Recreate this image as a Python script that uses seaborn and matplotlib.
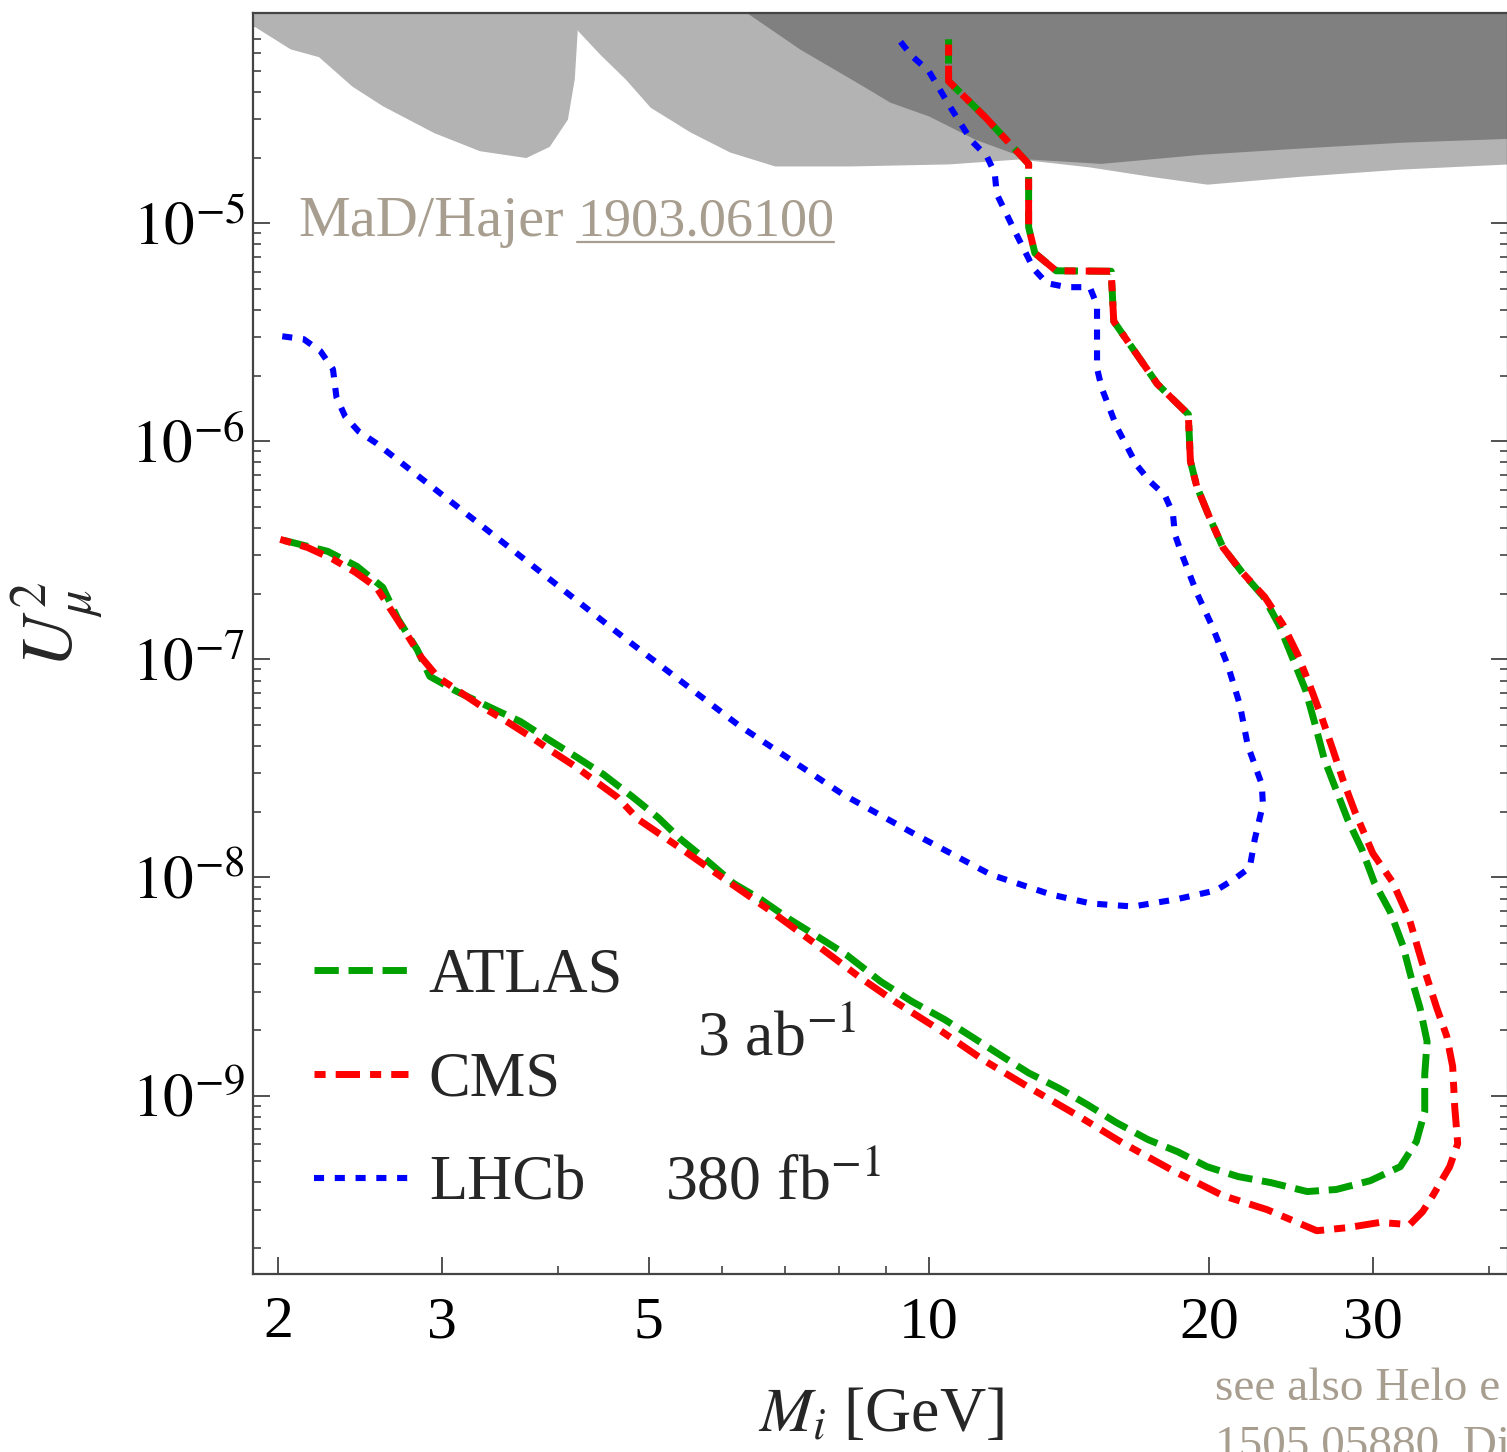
import matplotlib
matplotlib.use("Agg")
import matplotlib.pyplot as plt
import matplotlib.ticker as mticker
from matplotlib.lines import Line2D
import numpy as np
import seaborn as sns

# ------------------------------------------------------------
# Existing exclusion regions (lower boundaries, filled up to the top)
# ------------------------------------------------------------
excl_left_mass = [1.85, 2.06, 2.21, 2.40, 2.59, 2.94, 3.29, 3.69, 3.91, 4.09, 4.16, 4.19, 4.20]
excl_left_u2 = [8.4e-5, 6.3e-5, 5.8e-5, 4.25e-5, 3.45e-5, 2.6e-5, 2.15e-5, 2.0e-5, 2.25e-5,
                3.0e-5, 4.6e-5, 7.6e-5, 1e-4]

excl_mid_mass = [4.02, 4.20, 4.43, 4.72, 5.02, 5.54, 6.11, 6.83, 8.23, 10.5, 12.5, 14.9,
                 17.3, 19.9, 25.0, 32.1, 42.0]
excl_mid_u2 = [1e-4, 7.6e-5, 5.96e-5, 4.58e-5, 3.40e-5, 2.62e-5, 2.12e-5, 1.83e-5, 1.83e-5,
               1.87e-5, 1.97e-5, 1.81e-5, 1.64e-5, 1.51e-5, 1.64e-5, 1.77e-5, 1.87e-5]

excl_dark_mass = [6.2, 7.27, 8.43, 9.08, 10.0, 11.2, 12.8, 15.3, 19.6, 25.0, 32.1, 42.0]
excl_dark_u2 = [1e-4, 6.28e-5, 4.34e-5, 3.59e-5, 3.10e-5, 2.43e-5, 1.97e-5, 1.88e-5,
                2.07e-5, 2.21e-5, 2.35e-5, 2.45e-5]

# ------------------------------------------------------------
# Projected sensitivities
# ------------------------------------------------------------
atlas_mass = [2.03, 2.26, 2.43, 2.59, 2.69, 2.82, 2.91, 3.11, 3.38, 3.64, 3.90, 4.19, 4.47,
              4.80, 5.12, 5.40, 5.77, 6.17, 6.60, 7.09, 7.62, 8.15, 8.88, 9.59, 10.4, 11.1,
              12.0, 12.8, 13.8, 14.8, 15.9, 17.2, 18.5, 19.9, 21.5, 23.3, 25.5,
              27.4, 29.8, 32.1, 33.4, 34.1, 34.1, 34.3,
              33.7, 33.0, 32.3, 31.3, 30.1, 29.2, 28.2, 27.4, 26.6, 26.0, 25.4, 24.6, 23.8,
              22.9, 21.7, 20.7, 20.0, 19.4, 19.1, 19.0, 18.2, 17.6, 15.8, 15.7, 13.7, 13.0,
              12.8, 12.8, 12.6, 11.5, 10.5, 10.5]
atlas_u2 = [3.51e-7, 3.13e-7, 2.67e-7, 2.14e-7, 1.53e-7, 1.11e-7, 8.36e-8, 7.13e-8, 6.02e-8,
            5.19e-8, 4.30e-8, 3.55e-8, 2.97e-8, 2.35e-8, 1.88e-8, 1.51e-8, 1.20e-8, 9.39e-9,
            7.93e-9, 6.42e-9, 5.31e-9, 4.43e-9, 3.33e-9, 2.70e-9, 2.23e-9, 1.87e-9, 1.51e-9,
            1.27e-9, 1.08e-9, 9.09e-10, 7.52e-10, 6.28e-10, 5.53e-10, 4.72e-10, 4.25e-10,
            3.99e-10, 3.63e-10,
            3.71e-10, 4.07e-10, 4.72e-10, 6.15e-10, 8.44e-10, 1.25e-9, 1.77e-9,
            2.53e-9, 3.44e-9, 4.88e-9, 6.98e-9, 9.49e-9, 1.34e-8, 1.83e-8, 2.51e-8, 3.48e-8,
            5.03e-8, 7.21e-8, 1.01e-7, 1.43e-7, 1.93e-7, 2.51e-7, 3.26e-7, 4.53e-7, 6.22e-7,
            8.10e-7, 1.33e-6, 1.59e-6, 1.83e-6, 3.55e-6, 6.02e-6, 6.05e-6, 7.29e-6, 9.59e-6,
            1.87e-5, 2.01e-5, 3.06e-5, 4.48e-5, 6.98e-5]

cms_mass = [2.01, 2.15, 2.29, 2.42, 2.55, 2.65, 2.75, 2.85, 2.97, 3.14, 3.32, 3.52, 3.73,
            3.94, 4.17, 4.40, 4.63, 4.87, 5.44, 6.04, 6.75, 7.52, 8.41, 9.19, 10.25, 11.46,
            12.81, 14.45, 16.12, 18.20, 20.69, 23.08, 26.11, 28.18, 30.51, 32.86, 33.93,
            34.79, 36.27, 37.00, 36.73, 36.54, 36.01, 35.12, 33.85, 32.86, 31.51, 29.99,
            28.68, 27.84, 27.16, 26.43, 25.66, 24.91, 24.00, 22.96,
            21.7, 20.7, 20.0, 19.4, 19.1, 19.0, 18.2, 17.6, 15.8, 15.7, 13.7, 13.0, 12.8,
            12.8, 12.6, 11.5, 10.5, 10.5]
cms_u2 = [3.55e-7, 3.26e-7, 2.88e-7, 2.51e-7, 2.14e-7, 1.66e-7, 1.30e-7, 1.02e-7, 8.27e-8,
          7.06e-8, 6.02e-8, 5.19e-8, 4.43e-8, 3.78e-8, 3.23e-8, 2.73e-8, 2.33e-8, 1.85e-8,
          1.34e-8, 9.79e-9, 7.06e-9, 5.03e-9, 3.51e-9, 2.70e-9, 2.01e-9, 1.45e-9, 1.09e-9,
          8.10e-10, 6.09e-10, 4.58e-10, 3.48e-10, 3.00e-10, 2.40e-10, 2.48e-10, 2.62e-10,
          2.56e-10, 2.94e-10, 3.48e-10, 4.72e-10, 6.02e-10, 8.81e-10, 1.36e-9, 1.87e-9,
          2.53e-9, 4.12e-9, 6.35e-9, 9.49e-9, 1.29e-8, 2.01e-8, 2.82e-8, 3.87e-8, 5.42e-8,
          7.60e-8, 1.05e-7, 1.45e-7, 1.93e-7,
          2.51e-7, 3.26e-7, 4.53e-7, 6.22e-7, 8.10e-7, 1.33e-6, 1.59e-6, 1.83e-6, 3.55e-6,
          6.02e-6, 6.05e-6, 7.29e-6, 9.59e-6, 1.87e-5, 2.01e-5, 3.06e-5, 4.48e-5, 6.98e-5]

lhcb_mass = [2.02, 2.13, 2.22, 2.29, 2.31, 2.36, 2.44, 2.55, 3.53, 4.69, 6.25, 8.09, 9.71,
             11.66, 13.52, 14.93, 16.56, 18.42, 20.34, 21.26, 22.12, 22.39, 22.85, 22.79,
             22.01, 21.58, 20.95, 20.14, 19.41, 18.70, 18.38, 18.29, 17.93, 17.28, 16.73,
             15.92, 15.34, 15.16, 15.16, 14.89, 14.07, 13.39, 12.97, 12.37, 11.83, 11.77,
             11.54, 11.12, 10.53, 10.0, 9.59, 9.24]
lhcb_u2 = [3.03e-6, 2.94e-6, 2.59e-6, 2.14e-6, 1.59e-6, 1.30e-6, 1.11e-6, 9.79e-7, 3.30e-7,
           1.27e-7, 4.98e-8, 2.40e-8, 1.56e-8, 1.03e-8, 8.36e-9, 7.60e-9, 7.36e-9, 7.93e-9,
           8.72e-9, 9.79e-9, 1.11e-8, 1.49e-8, 2.16e-8, 2.67e-8, 4.03e-8, 6.22e-8, 9.39e-8,
           1.43e-7, 2.01e-7, 3.03e-7, 3.74e-7, 4.67e-7, 5.65e-7, 6.55e-7, 7.76e-7, 1.16e-6,
           1.75e-6, 2.16e-6, 4.21e-6, 5.09e-6, 5.09e-6, 5.31e-6, 6.15e-6, 9.19e-6, 1.36e-5,
           1.70e-5, 2.03e-5, 2.38e-5, 3.44e-5, 4.98e-5, 5.84e-5, 7.13e-5]

x_ticks = [2, 3, 5, 10, 20, 30]
x_tick_labels = ["2", "3", "5", "10", "20", "30"]
x_minor = [4, 6, 7, 8, 9, 40]
y_ticks = [1e-9, 1e-8, 1e-7, 1e-6, 1e-5]
y_tick_labels = [r"$10^{-9}$", r"$10^{-8}$", r"$10^{-7}$", r"$10^{-6}$", r"$10^{-5}$"]
legend_labels = ["ATLAS", "CMS", "LHCb"]

NOTE_COLOR = "#a89e90"

sns.set_style("ticks")
plt.rcParams["font.family"] = ["Liberation Serif", "DejaVu Serif"]
plt.rcParams["mathtext.fontset"] = "stix"

fig = plt.figure(figsize=(15.07, 14.52), dpi=100)
ax = fig.add_axes([253 / 1507, 1 - 1274 / 1452, (1508 - 253) / 1507, (1274 - 13) / 1452])
ax.set_xscale("log")
ax.set_yscale("log")
ax.set_xlim(1.879, 41.9)
ax.set_ylim(1.52e-10, 9.2e-5)

# grey exclusion bands
ax.fill_between(excl_left_mass, excl_left_u2, 1e-4, color="#b3b3b3", lw=0, zorder=1)
ax.fill_between(excl_mid_mass, excl_mid_u2, 1e-4, color="#b3b3b3", lw=0, zorder=1)
ax.fill_between(excl_dark_mass, excl_dark_u2, 1e-4, color="#808080", lw=0, zorder=2)

sns.lineplot(x=atlas_mass, y=atlas_u2, sort=False, estimator=None, ax=ax,
             color="#00a000", lw=5, ls=(0, (3.5, 1.4)), zorder=3)
atlas_line = ax.lines[-1]
sns.lineplot(x=cms_mass, y=cms_u2, sort=False, estimator=None, ax=ax,
             color="#ff0000", lw=5, ls=(0, (1.6, 1.45, 3.5, 1.45)), zorder=4)
cms_line = ax.lines[-1]
sns.lineplot(x=lhcb_mass, y=lhcb_u2, sort=False, estimator=None, ax=ax,
             color="#0000ff", lw=4.4, ls=(0, (1.65, 1.75)), zorder=5)
lhcb_line = ax.lines[-1]

# ticks
ax.xaxis.set_major_locator(mticker.FixedLocator(x_ticks))
ax.xaxis.set_major_formatter(mticker.FixedFormatter(x_tick_labels))
ax.xaxis.set_minor_locator(mticker.FixedLocator(x_minor))
ax.xaxis.set_minor_formatter(mticker.NullFormatter())
ax.yaxis.set_major_locator(mticker.FixedLocator(y_ticks))
ax.yaxis.set_major_formatter(mticker.FixedFormatter(y_tick_labels))
ax.yaxis.set_minor_locator(mticker.LogLocator(base=10, subs=np.arange(2, 10), numticks=30))
ax.yaxis.set_minor_formatter(mticker.NullFormatter())

ax.tick_params(which="both", direction="in", top=True, right=True, colors="#333333")
ax.tick_params(which="major", length=12, width=1.2)
ax.tick_params(which="minor", length=6, width=1.1)
ax.tick_params(axis="x", which="major", labelsize=43, pad=16, labelcolor="black")
ax.tick_params(axis="y", which="major", labelsize=44, pad=6, labelcolor="black")
for sp in ax.spines.values():
    sp.set_linewidth(1.6)
    sp.set_color("#444444")

ax.set_xlabel(r"$M_i$ [GeV]", fontsize=46)
ax.xaxis.set_label_coords(0.5, -0.09)
ax.set_ylabel(r"$U_\mu^2$", fontsize=52, va="center")
ax.yaxis.set_label_coords(-0.155, 0.515)

ax.legend([atlas_line, cms_line, lhcb_line], legend_labels, loc="upper left",
          bbox_to_anchor=(0.049, 0.259), frameon=False, fontsize=45,
          handlelength=1.5, handletextpad=0.33, labelspacing=0.74,
          borderpad=0, borderaxespad=0)

fig.text(697 / 1507, 1 - 1055 / 1452, r"3 ab$^{-1}$", fontsize=46, va="baseline")
fig.text(665 / 1507, 1 - 1200 / 1452, r"380 fb$^{-1}$", fontsize=46, va="baseline")

fig.text(298 / 1507, 1 - 236 / 1452, "MaD/Hajer", fontsize=42, color=NOTE_COLOR,
         va="baseline")
ref = fig.text(577 / 1507, 1 - 236 / 1452, "1903.06100", fontsize=39, color=NOTE_COLOR,
               va="baseline")
fig.canvas.draw()
bb = ref.get_window_extent(fig.canvas.get_renderer())
fig.add_artist(Line2D([bb.x0 / 1507, bb.x1 / 1507], [1 - 242 / 1452, 1 - 242 / 1452],
                      transform=fig.transFigure, color=NOTE_COLOR, lw=1.6))

fig.text(1215 / 1507, 1 - 1400 / 1452, "see also Helo e", fontsize=34,
         color=NOTE_COLOR, va="baseline")
fig.text(1215 / 1507, 1 - 1458 / 1452, "1505.05880, Di", fontsize=34,
         color=NOTE_COLOR, va="baseline")

fig.savefig("out.png", dpi=100)
